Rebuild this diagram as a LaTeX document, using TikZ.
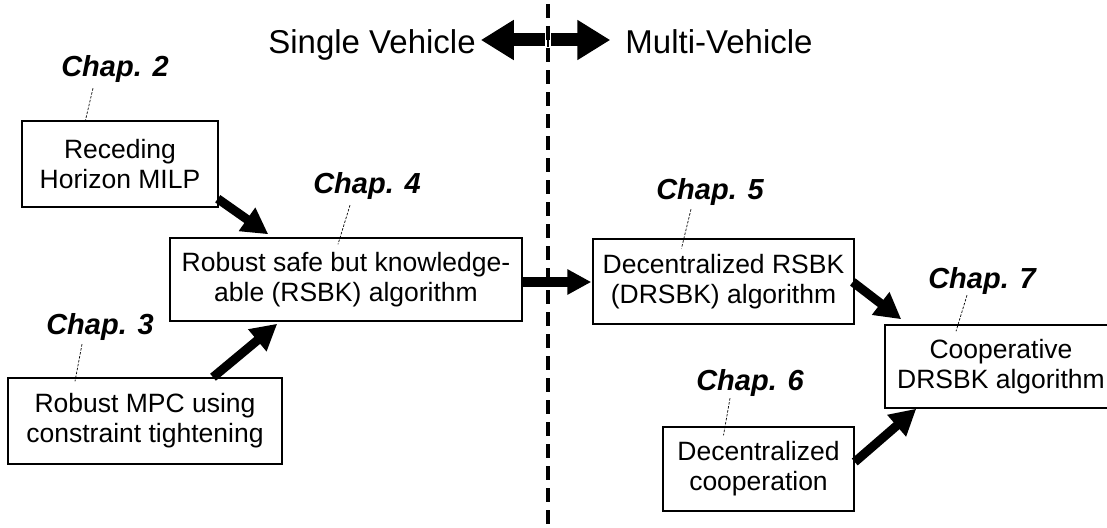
\documentclass[tikz,border=0pt]{standalone}
\usepackage{fontspec}
\setmainfont{Liberation Sans}
\usetikzlibrary{arrows.meta,calc}
\tikzset{
  box/.style={draw, line width=1.5pt, align=center, inner sep=0pt,
    font=\fontsize{26.5}{30}\selectfont},
  chap/.style={inner sep=0pt, anchor=base, font=\fontsize{29}{32}\selectfont\bfseries\itshape},
  hdr/.style={inner sep=0pt, anchor=base, font=\fontsize{33}{36}\selectfont},
  leader/.style={line width=0.7pt, dash pattern=on 2.5pt off 1.5pt},
  bigarrow/.style={line width=9pt, -{Triangle[length=26pt,width=27pt]}},
  hdrarrow/.style={line width=13pt, -{Triangle[length=33pt,width=38pt]}},
  divider/.style={line width=3.5pt, dash pattern=on 14pt off 8pt},
}
\begin{document}
\begin{tikzpicture}[x=1pt,y=-1pt]
\useasboundingbox (0,0) rectangle (1107,527);
% divider
\coordinate (top) at (548,4);
\coordinate (bot) at (548,527);
\coordinate (mid) at (548,40);
\draw[divider] (top) -- (bot);
% header
\node[hdr] (sv) at (372,53) {Single Vehicle};
\node[hdr] (mv) at (719,53) {Multi-Vehicle};
\draw[hdrarrow] ($(mid)+(-3,0)$) -- ($(sv.east |- mid)+(5,0)$);
\draw[hdrarrow] ($(mid)+(3,0)$) -- ($(mv.west |- mid)+(-15,0)$);
\draw[line width=2pt] ($(mid)+(0,-7.5)$) -- ($(mid)+(0,7.5)$);
% boxes
\node[box, minimum width=196pt, minimum height=86pt] (b2) at (120,164) {Receding\\Horizon MILP};
\node[box, minimum width=352pt, minimum height=83pt] (b4) at (346,279.5) {Robust safe but knowledge-\\able (RSBK) algorithm};
\node[box, minimum width=274pt, minimum height=86pt] (b3) at (145,421) {Robust MPC using\\constraint tightening};
\node[box, minimum width=261pt, minimum height=85pt] (b5) at (723.5,281.5) {Decentralized RSBK\\(DRSBK) algorithm};
\node[box, minimum width=232pt, minimum height=83pt] (b7) at (1001,366.5) {Cooperative\\DRSBK algorithm};
\node[box, minimum width=191pt, minimum height=84pt] (b6) at (758.5,469) {Decentralized\\cooperation};
% chapter labels
\node[chap] (c2) at (115,77) {Chap. 2};
\node[chap] (c4) at (367,193) {Chap. 4};
\node[chap] (c3) at (100,334) {Chap. 3};
\node[chap] (c5) at (710,199) {Chap. 5};
\node[chap] (c7) at (982,288) {Chap. 7};
\node[chap] (c6) at (750,390) {Chap. 6};
% leaders
\draw[leader] ($(c2.south)+(-22,5)$) -- ($(b2.north)+(-35,2)$);
\draw[leader] ($(c4.south)+(-17,6)$) -- ($(b4.north)+(-8,7)$);
\draw[leader] ($(c3.south)+(-18,4)$) -- ($(b3.north)+(-70,4)$);
\draw[leader] ($(c5.south)+(-19,4)$) -- ($(b5.north)+(-42,10)$);
\draw[leader] ($(c7.south)+(-15,1)$) -- ($(b7.north)+(-45,7)$);
\draw[leader] ($(c6.south)+(-20,2)$) -- ($(b6.north)+(-35,9)$);
% thick arrows
\draw[bigarrow] ($(b2.south east)+(-1,-9)$) -- ($(b4.north west)+(99,-3)$);
\draw[bigarrow] ($(b3.north)+(68,0)$) -- ($(b4.south west)+(108,2)$);
\draw[line width=10pt, -{Triangle[length=24pt,width=24pt]}] ($(b4.east)+(0,2.5)$) -- ($(b5.west)+(-1,0.5)$);
\draw[bigarrow] ($(b5.east)+(-2,0.5)$) -- ($(b7.north west)+(17,-5)$);
\draw[bigarrow] ($(b6.east)+(0,-7)$) -- ($(b7.south west)+(32,0)$);
\end{tikzpicture}
\end{document}
